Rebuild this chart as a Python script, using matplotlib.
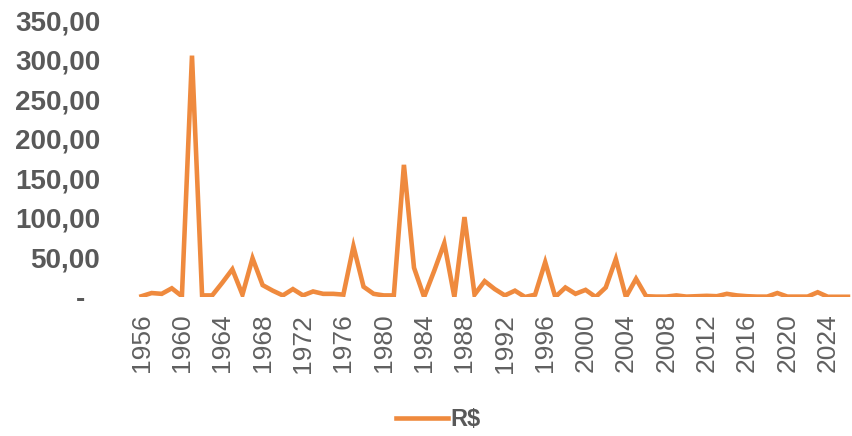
import matplotlib
matplotlib.use("Agg")
import matplotlib.pyplot as plt
from matplotlib.ticker import FixedLocator, FuncFormatter

years = list(range(1956, 2027))
values = [
    1, 5, 4, 11, 1, 305, 2, 2, 18, 35,          # 1956-1965
    3, 49, 15, 8, 2, 10, 2, 7, 4, 4,            # 1966-1975
    3, 64, 13, 4, 2, 2, 167, 37, 0, 33,         # 1976-1985
    68, 0, 101, 3, 20, 10, 2, 8, 0, 3,          # 1986-1995
    44, 0, 12, 4, 9, 0, 12, 48, 0, 23,          # 1996-2005
    1, 0.5, 0.5, 2, 0.5, 1, 1.5, 1, 4, 2,       # 2006-2015
    1, 0.5, 0.5, 5, 0.5, 0.5, 0.5, 6, 0.3, 0.3, # 2016-2025
    0.3,                                        # 2026
]
yticks = [0, 50, 100, 150, 200, 250, 300, 350]
series_name = "R$"

plt.rcParams['font.family'] = ['Liberation Sans', 'DejaVu Sans']

fig = plt.figure(figsize=(8.53, 4.36), dpi=100)
ax = fig.add_axes([0.160, 0.3188, 0.840, 0.6353])

x = list(range(len(years)))
ax.plot(x, values, color="#EF8A3E", linewidth=3.3, solid_joinstyle="miter", label=series_name)

ax.set_xlim(-0.5, len(years) - 0.5)
ax.set_ylim(0, 350)

tick_idx = [i for i, y in enumerate(years) if (y - 1956) % 4 == 0]
ax.set_xticks(tick_idx)
ax.set_xticklabels([str(years[i]) for i in tick_idx], rotation=90, fontsize=19, color="#606060")
ax.yaxis.set_major_locator(FixedLocator(yticks))

def fmt(v, pos):
    if v == 0:
        return "-  "
    return f"{v:.2f}".replace(".", ",")

ax.yaxis.set_major_formatter(FuncFormatter(fmt))
for lab in ax.get_yticklabels():
    lab.set_fontsize(20)
    lab.set_fontweight("bold")
    lab.set_color("#595959")

ax.tick_params(axis="both", length=0)
ax.tick_params(axis="x", pad=12)
ax.tick_params(axis="y", pad=26)
for s in ax.spines.values():
    s.set_visible(False)

leg = fig.legend(loc="center", bbox_to_anchor=(0.514, 0.037), frameon=False,
                 prop={"size": 17, "weight": "bold"}, handlelength=2.2, handletextpad=0.1)
for t in leg.get_texts():
    t.set_color("#595959")

fig.savefig("out.png", dpi=100)
